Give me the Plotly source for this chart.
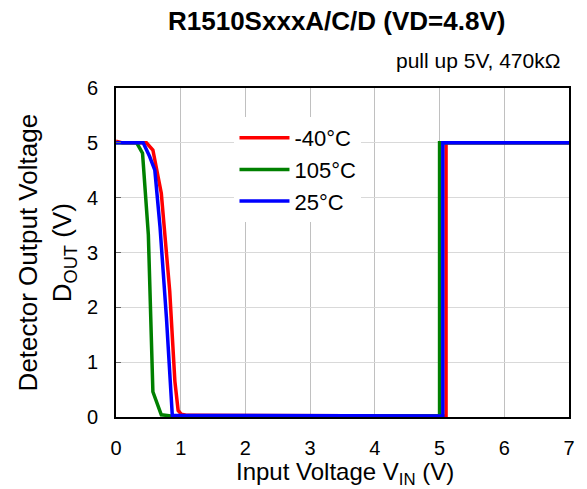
import plotly.graph_objects as go

# Data (Input voltage V, output voltage V)
red_x = [0, 0.1, 0.47, 0.57, 0.70, 0.83, 0.91, 0.96, 1.01, 1.10, 5.10, 5.10, 7.0]
red_y = [5.03, 5.0, 5.0, 4.87, 4.08, 2.30, 0.65, 0.12, 0.05, 0.03, 0.02, 5.0, 5.0]

green_x = [0, 0.32, 0.41, 0.50, 0.57, 0.70, 0.85, 5.0, 5.0, 7.0]
green_y = [5.0, 5.0, 4.81, 3.32, 0.46, 0.04, 0.02, 0.02, 5.0, 5.0]

blue_x = [0, 0.42, 0.52, 0.60, 0.68, 0.78, 0.87, 5.05, 5.05, 7.0]
blue_y = [5.0, 5.0, 4.75, 4.50, 3.47, 1.80, 0.03, 0.02, 5.0, 5.0]

series_names = ["-40°C", "105°C", "25°C"]
series_colors = ["#ff0000", "#008000", "#0000ff"]
x_ticks = [0, 1, 2, 3, 4, 5, 6, 7]
y_ticks = [0, 1, 2, 3, 4, 5, 6]

FONT = "Arial, Liberation Sans, sans-serif"

fig = go.Figure()
for xs, ys, name, col in zip([red_x, green_x, blue_x], [red_y, green_y, blue_y],
                             series_names, series_colors):
    fig.add_trace(go.Scatter(x=xs, y=ys, mode="lines", name=name,
                             line=dict(color=col, width=3.5)))

W, H = 587, 489
L, R, T, B = 116, 16, 88, 72
pw, ph = W - L - R, H - T - B

def px2paper_x(px):
    return (px - L) / pw

def px2paper_y(py):
    return (H - B - py) / ph

fig.update_layout(
    width=W, height=H,
    margin=dict(l=L, r=R, t=T, b=B, pad=0),
    paper_bgcolor="white", plot_bgcolor="white",
    font=dict(family=FONT, size=20, color="black"),
    showlegend=True,
    legend=dict(x=px2paper_x(235), y=px2paper_y(117), xanchor="left", yanchor="top",
                bgcolor="white", borderwidth=0, font=dict(size=22, family=FONT),
                itemwidth=50, tracegroupgap=0),
    xaxis=dict(range=[0, 7], tickvals=x_ticks, showgrid=True, gridcolor="#c0c0c0",
               gridwidth=1, zeroline=False, showline=True, linecolor="black",
               linewidth=2, mirror=True, ticks="", ticklabelstandoff=12,
               tickfont=dict(size=20)),
    yaxis=dict(range=[0, 6], tickvals=y_ticks, showgrid=True, gridcolor="#d9d9d9",
               gridwidth=1, zeroline=False, showline=True, linecolor="black",
               linewidth=2, mirror=True, ticks="inside", ticklen=5, tickcolor="#666666",
               ticklabelstandoff=12, tickfont=dict(size=20)),
)

annots = [
    dict(text="<b>R1510SxxxA/C/D (VD=4.8V)</b>", x=px2paper_x(337), y=px2paper_y(21),
         font=dict(size=26)),
    dict(text="pull up 5V, 470kΩ", x=px2paper_x(564), y=px2paper_y(61),
         xanchor="right", font=dict(size=21)),
    dict(text="Detector Output Voltage", x=px2paper_x(28), y=px2paper_y(252),
         textangle=-90, font=dict(size=26)),
    dict(text="D<sub>OUT</sub> (V)", x=px2paper_x(63), y=px2paper_y(253),
         textangle=-90, font=dict(size=26)),
    dict(text="Input Voltage V<sub>IN</sub> (V)", x=px2paper_x(346), y=px2paper_y(474),
         font=dict(size=24)),
]
for a in annots:
    a.setdefault("xanchor", "center")
    a.setdefault("yanchor", "middle")
    fig.add_annotation(xref="paper", yref="paper", showarrow=False, **a)

fig.write_html("out.html", config={"displayModeBar": False},
               post_script="document.body.style.margin='0';")
